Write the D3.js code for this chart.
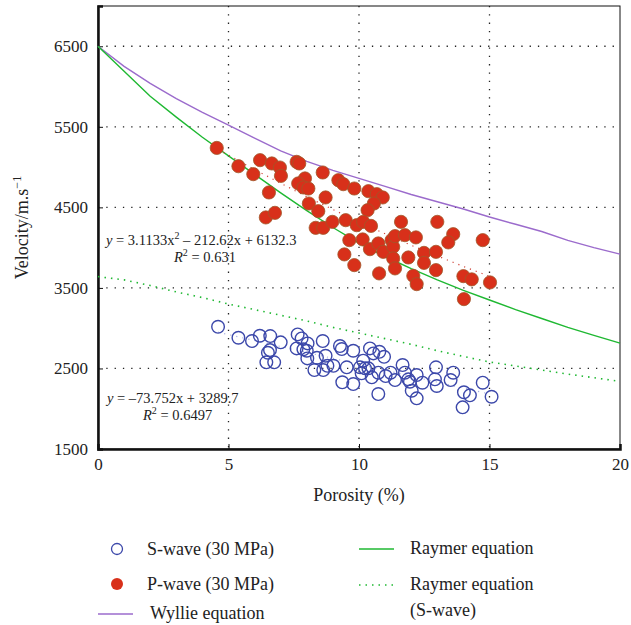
<!DOCTYPE html>
<html>
<head>
<meta charset="utf-8">
<script src="https://cdn.jsdelivr.net/npm/d3@7"></script>
<style>
body { margin: 0; background: #fff; }
svg { display: block; }
</style>
</head>
<body>
<svg></svg>
<script>
// P-wave (30 MPa): porosity %, velocity m/s
var pPhi = [4.55, 5.38, 5.95, 6.21, 6.66, 6.97, 7.01, 6.55, 7.61, 7.71, 7.93, 7.67, 7.87, 8.06, 8.61, 8.72, 8.08, 8.44, 6.43, 6.78,
  8.34, 8.63, 8.98, 9.49, 9.21, 9.40, 9.82, 9.63, 9.44, 9.82, 9.91, 10.36, 10.68, 10.91, 10.57, 10.33, 10.16, 10.46, 10.14, 10.42,
  10.74, 10.93, 11.25, 11.31, 11.38, 11.61, 11.76, 12.18, 11.31, 11.38, 10.77, 11.89, 12.49, 12.49, 12.95, 12.95, 12.08, 12.21, 13.0, 13.61,
  13.42, 14.74, 14.0, 14.32, 15.02, 14.02];
var pVel = [5238, 5011, 4912, 5086, 5045, 4995, 4891, 4685, 5065, 5045, 4859, 4797, 4747, 4734, 4933, 4623, 4548, 4453, 4375, 4432,
  4246, 4246, 4320, 4341, 4837, 4788, 4734, 4093, 3916, 3783, 4279, 4701, 4664, 4623, 4548, 4465, 4320, 4270, 4102, 3981,
  4052, 3948, 4093, 4010, 4143, 4320, 4155, 4127, 3866, 3742, 3680, 3878, 3935, 3811, 3948, 3721, 3650, 3547, 4320, 4167,
  4065, 4093, 3646, 3606, 3568, 3361];

// S-wave (30 MPa)
var sPhi = [4.60, 5.38, 5.90, 6.20, 6.60, 7.00, 6.59, 6.51, 6.45, 6.75, 7.65, 7.80, 7.61, 7.87, 8.03, 8.00, 8.02, 8.61, 8.39, 8.72,
  8.29, 8.63, 8.79, 9.02, 9.27, 9.34, 9.78, 9.53, 9.36, 9.78, 10.04, 10.16, 10.23, 10.42, 10.55, 10.78, 10.96, 10.36, 10.10, 10.49,
  10.74, 11.02, 11.21, 11.38, 11.67, 11.76, 11.89, 11.95, 12.21, 12.43, 12.02, 12.21, 10.74, 12.95, 12.91, 12.98, 13.61, 13.51, 14.74, 14.02,
  14.25, 15.08, 13.97];
var sVel = [3017, 2881, 2840, 2906, 2902, 2824, 2728, 2695, 2576, 2576, 2923, 2873, 2749, 2737, 2811, 2720, 2625, 2840, 2633, 2658,
  2480, 2480, 2533, 2533, 2778, 2741, 2720, 2514, 2328, 2306, 2514, 2596, 2501, 2749, 2687, 2707, 2645, 2501, 2439, 2390,
  2447, 2406, 2447, 2356, 2542, 2447, 2365, 2335, 2418, 2323, 2223, 2129, 2182, 2514, 2365, 2282, 2447, 2356, 2323, 2204,
  2166, 2149, 2017];

// model curves
var curvePhi = [0, 1, 2, 3, 4, 5, 6, 7, 8, 9, 10, 11, 12, 13, 14, 15, 16, 17, 18, 19, 20];
var wyllieVel = [6500, 6250, 6040, 5850, 5680, 5520, 5360, 5200, 5070, 4960, 4860, 4760, 4660, 4570, 4480, 4380, 4290, 4200, 4090, 4000, 3920];
var raymerVel = [6500, 6190, 5880, 5620, 5370, 5140, 4910, 4680, 4460, 4250, 4056, 3890, 3740, 3600, 3470, 3350, 3230, 3120, 3010, 2910, 2815];
var raymerSVel = [3640, 3600, 3530, 3450, 3380, 3300, 3230, 3160, 3090, 3010, 2940, 2870, 2800, 2720, 2650, 2580, 2530, 2480, 2430, 2385, 2340];

// fitted trend lines
var pFitPhi = [4.6, 6, 8, 10, 12, 14, 15];
var pFitVel = [5220, 4969, 4631, 4317, 4029, 3766, 3644];
var sFitPhi = [4.6, 15];
var sFitVel = [2950, 2183];

var xTicks = [0, 5, 10, 15, 20];
var yTicks = [1500, 2500, 3500, 4500, 5500, 6500];

var width = 631, height = 625;
var mLeft = 98, mRight = 620, mTop = 6, mBottom = 449;

var svg = d3.select("svg").attr("width", width).attr("height", height);

var x = d3.scaleLinear().domain([0, 20]).range([mLeft, mRight]);
var y = d3.scaleLinear().domain([1500, 7000]).range([mBottom, mTop]);

var serif = "'Liberation Serif', 'DejaVu Serif', serif";

// grid
svg.append("g").selectAll("line").data([5, 10, 15]).enter().append("line")
  .attr("x1", function(d) { return x(d); }).attr("x2", function(d) { return x(d); })
  .attr("y1", mTop).attr("y2", mBottom)
  .attr("stroke", "#222").attr("stroke-width", 1.3).attr("stroke-dasharray", "1.3,7");
svg.append("g").selectAll("line").data([2500, 3500, 4500, 5500, 6500]).enter().append("line")
  .attr("y1", function(d) { return y(d); }).attr("y2", function(d) { return y(d); })
  .attr("x1", mLeft).attr("x2", mRight)
  .attr("stroke", "#222").attr("stroke-width", 1.3).attr("stroke-dasharray", "1.3,7");

// frame
svg.append("rect").attr("x", mLeft).attr("y", mTop).attr("width", mRight - mLeft).attr("height", mBottom - mTop)
  .attr("fill", "none").attr("stroke", "#111").attr("stroke-width", 1);

var xAxis = svg.append("g").attr("transform", "translate(0," + mBottom + ")")
  .call(d3.axisBottom(x).tickValues(xTicks).tickSize(-5).tickPadding(9).tickFormat(d3.format("d")));
var yAxis = svg.append("g").attr("transform", "translate(" + mLeft + ",0)")
  .call(d3.axisLeft(y).tickValues(yTicks).tickSize(-5).tickPadding(10).tickFormat(d3.format("d")));
[xAxis, yAxis].forEach(function(a) {
  a.select(".domain").attr("stroke", "#111").attr("stroke-width", 2.5);
  a.selectAll(".tick line").attr("stroke", "#111");
  a.selectAll("text").attr("font-family", serif).attr("font-size", 17).attr("fill", "#222");
});

var line = d3.line().x(function(d) { return x(d[0]); }).y(function(d) { return y(d[1]); });
function pairs(a, b) { return a.map(function(v, i) { return [v, b[i]]; }); }

svg.append("path").attr("d", line(pairs(curvePhi, wyllieVel)))
  .attr("fill", "none").attr("stroke", "#9b6bcc").attr("stroke-width", 1.4);
svg.append("path").attr("d", line(pairs(curvePhi, raymerVel)))
  .attr("fill", "none").attr("stroke", "#1fb832").attr("stroke-width", 1.4);
svg.append("path").attr("d", line(pairs(curvePhi, raymerSVel)))
  .attr("fill", "none").attr("stroke", "#1fb832").attr("stroke-width", 1.6).attr("stroke-dasharray", "1.5,5");

svg.append("path").attr("d", line(pairs(pFitPhi, pFitVel)))
  .attr("fill", "none").attr("stroke", "#d0443a").attr("stroke-width", 1.2).attr("stroke-dasharray", "1.2,5");
svg.append("path").attr("d", line(pairs(sFitPhi, sFitVel)))
  .attr("fill", "none").attr("stroke", "#a8b0e0").attr("stroke-width", 1.2).attr("stroke-dasharray", "1.2,5");

// points
svg.append("g").selectAll("circle").data(pairs(sPhi, sVel)).enter().append("circle")
  .attr("cx", function(d) { return x(d[0]); }).attr("cy", function(d) { return y(d[1]); })
  .attr("r", 6.3).attr("fill", "none").attr("stroke", "#3c48aa").attr("stroke-width", 1.4);
svg.append("g").selectAll("circle").data(pairs(pPhi, pVel)).enter().append("circle")
  .attr("cx", function(d) { return x(d[0]); }).attr("cy", function(d) { return y(d[1]); })
  .attr("r", 6.6).attr("fill", "#d8301a").attr("stroke", "#a0582a").attr("stroke-width", 0.8);

// equations
function eq(g, tx, ty, parts) {
  var t = g.append("text").attr("x", tx).attr("y", ty).attr("font-family", serif).attr("font-size", 14.5).attr("fill", "#222");
  parts.forEach(function(p) {
    var s = t.append("tspan").text(p[0]);
    if (p[1] === "i") s.attr("font-style", "italic");
    if (p[1] === "sup") s.attr("font-size", 10).attr("dy", -6);
    if (p[1] === "down") s.attr("dy", 6);
  });
}
eq(svg, 106, 245, [["y", "i"], [" = 3.1133x"], ["2", "sup"], [" \u2013 212.62x + 6132.3", "down"]]);
eq(svg, 174, 262, [["R", "i"], ["2", "sup"], [" = 0.631", "down"]]);
eq(svg, 107, 403, [["y", "i"], [" = \u201373.752x + 3289.7"]]);
eq(svg, 143, 420, [["R", "i"], ["2", "sup"], [" = 0.6497", "down"]]);

// axis titles
svg.append("text").attr("x", (mLeft + mRight) / 2).attr("y", 501).attr("text-anchor", "middle")
  .attr("font-family", serif).attr("font-size", 18).attr("fill", "#222").text("Porosity (%)");
var yl = svg.append("text").attr("transform", "translate(28," + ((mTop + mBottom) / 2) + ") rotate(-90)")
  .attr("text-anchor", "middle").attr("font-family", serif).attr("font-size", 18).attr("fill", "#222");
yl.append("tspan").text("Velocity/m.s");
yl.append("tspan").text("\u22121").attr("font-size", 12).attr("dy", -7);

// legend
var lg = svg.append("g").attr("font-family", serif).attr("font-size", 18).attr("fill", "#222");
lg.append("circle").attr("cx", 117).attr("cy", 549).attr("r", 5.5).attr("fill", "none").attr("stroke", "#3c48aa").attr("stroke-width", 1.3);
lg.append("text").attr("x", 147).attr("y", 555).text("S-wave (30 MPa)");
lg.append("circle").attr("cx", 117).attr("cy", 584).attr("r", 6).attr("fill", "#d8301a");
lg.append("text").attr("x", 147).attr("y", 590).text("P-wave (30 MPa)");
lg.append("line").attr("x1", 98).attr("x2", 133).attr("y1", 614).attr("y2", 614).attr("stroke", "#9b6bcc").attr("stroke-width", 1.5);
lg.append("text").attr("x", 150).attr("y", 619).text("Wyllie equation");
lg.append("line").attr("x1", 359).attr("x2", 394).attr("y1", 549).attr("y2", 549).attr("stroke", "#1fb832").attr("stroke-width", 1.5);
lg.append("text").attr("x", 410).attr("y", 554).text("Raymer equation");
lg.append("line").attr("x1", 359).attr("x2", 394).attr("y1", 585).attr("y2", 585).attr("stroke", "#1fb832").attr("stroke-width", 1.5).attr("stroke-dasharray", "1.5,5");
lg.append("text").attr("x", 410).attr("y", 590).text("Raymer equation");
lg.append("text").attr("x", 410).attr("y", 616).text("(S-wave)");
</script>
</body>
</html>
